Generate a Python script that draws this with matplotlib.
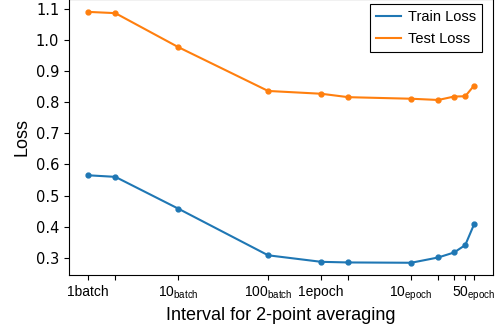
import matplotlib
matplotlib.use("Agg")
import matplotlib.pyplot as plt

plt.rcParams['mathtext.fontset'] = 'custom'
plt.rcParams['mathtext.rm'] = 'Liberation Sans'

# interval for 2-point averaging, in batches (1 epoch = 390 batches)
interval_batches = [1, 2, 10, 100, 390, 780, 3900, 7800, 11700, 15600, 19500]
train_loss = [0.565, 0.560, 0.458, 0.308, 0.287, 0.285, 0.284, 0.301, 0.317, 0.341, 0.407]
test_loss = [1.090, 1.086, 0.977, 0.836, 0.827, 0.816, 0.811, 0.807, 0.818, 0.819, 0.853]
tick_labels = ['1batch', '', r'10$_{\mathrm{batch}}$', r'100$_{\mathrm{batch}}$', '1epoch', '',
               r'10$_{\mathrm{epoch}}$', '', '', '', r'50$_{\mathrm{epoch}}$']

sans = 'Liberation Sans'

fig = plt.figure(figsize=(5.01, 3.26), dpi=100)
ax = fig.add_axes([0.1377, 0.1555, 0.8469, 0.8465])

ax.plot(interval_batches, train_loss, color='#1f77b4', lw=1.5, label='Train Loss')
ax.plot(interval_batches, test_loss, color='#ff7f0e', lw=1.5, label='Test Loss')
ax.plot(interval_batches, train_loss, 'o', color='#1f77b4', ms=3.5)
ax.plot(interval_batches, test_loss, 'o', color='#ff7f0e', ms=3.5)

ax.set_xscale('log')
ax.minorticks_off()
ax.set_xticks(interval_batches)
ax.set_xticklabels(tick_labels, fontfamily=sans, fontsize=10)
ax.set_yticks([0.3, 0.4, 0.5, 0.6, 0.7, 0.8, 0.9, 1.0, 1.1])
ax.tick_params(axis='y', labelsize=10.5)

ax.set_xlabel('Interval for 2-point averaging', fontfamily=sans, fontsize=13, labelpad=3)
ax.set_ylabel('Loss', fontfamily=sans, fontsize=13)

leg = ax.legend(loc='upper right', bbox_to_anchor=(0.962, 0.987), bbox_transform=fig.transFigure,
                prop={'family': sans, 'size': 10.5}, fancybox=False, edgecolor='black',
                framealpha=1, borderaxespad=0, handlelength=1.7, handletextpad=0.5,
                labelspacing=0.55)
leg.get_frame().set_linewidth(0.8)

fig.savefig('out.png', dpi=100)
